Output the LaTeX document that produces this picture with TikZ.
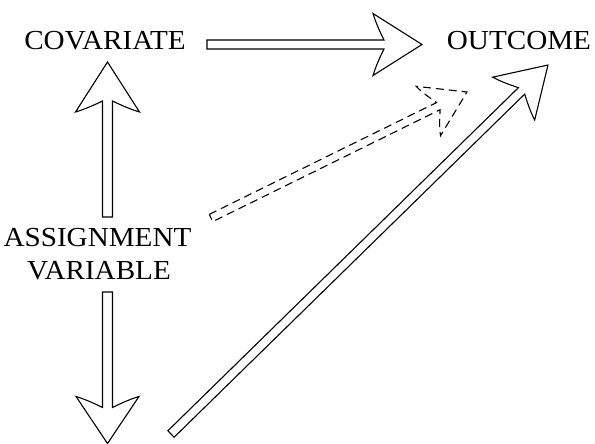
\documentclass[tikz,border=0pt]{standalone}
\usepackage{fontspec}
\setmainfont{Liberation Serif}
\newfontfamily\lblfont[FakeStretch=1.06]{Liberation Serif}
\usetikzlibrary{calc}
\tikzset{
  pics/blockarrow/.style n args={4}{code={
    \pgfmathsetmacro\baL{#1}
    \pgfmathsetmacro\baB{\baL-#2}
    \pgfmathsetmacro\baJ{\baB+11}
    \draw[pic actions] (0,-#4) -- (\baJ,-#4)
      .. controls ({\baJ-3},{-#4-6}) and ({\baB+3},{-#3+10}) .. (\baB,-#3)
      -- (\baL,0) -- (\baB,#3)
      .. controls ({\baB+3},{#3-10}) and ({\baJ-3},{#4+6}) .. (\baJ,#4)
      -- (0,#4) -- cycle;
  }},
  lbl/.style={font=\lblfont\fontsize{27.5}{33}\selectfont, inner sep=0pt, anchor=base},
  arr/.style={line width=1.1pt, line join=miter},
  dasharr/.style={dash pattern=on 8pt off 5pt},
}
\newcommand\fatarrow[6][]{%
  \path let \p1=(#2), \p2=(#3),
    \n1={atan2(\y2-\y1,\x2-\x1)}, \n2={veclen(\x2-\x1,\y2-\y1)} in
    (\p1) pic[draw, arr, #1, rotate=\n1] {blockarrow={\n2}{#4}{#5}{#6}};}
\begin{document}
\begin{tikzpicture}[x=1pt,y=-1pt]
  \useasboundingbox (0,0) rectangle (595,444);
  \node[lbl] (cov) at (105,49.5) {COVARIATE};
  \node[lbl] (out) at (519,49.5) {OUTCOME};
  \node[lbl] (asg) at (97.5,246.5) {ASSIGNMENT};
  \node[lbl] (var) at (99,279.5) {VARIABLE};
  % arrow end points
  \coordinate (covR)  at (207,44.5);
  \coordinate (outL)  at (422,44.5);
  \coordinate (asgU)  at (107.5,217);
  \coordinate (covB)  at (107.5,62);
  \coordinate (asgD)  at (107.5,292);
  \coordinate (down)  at (107.5,443.5);
  \coordinate (lowT)  at (171,434);
  \coordinate (outB)  at (548,65);
  \coordinate (asgR)  at (211,218);
  \coordinate (outD)  at (467,92);
  \fatarrow{covR}{outL}{49}{31}{4.5}
  \fatarrow{asgU}{covB}{50}{32}{5}
  \fatarrow{asgD}{down}{47}{31.5}{5}
  \fatarrow{lowT}{outB}{48}{30}{4.5}
  \fatarrow[dasharr]{asgR}{outD}{43}{27.5}{4}
\end{tikzpicture}
\end{document}
